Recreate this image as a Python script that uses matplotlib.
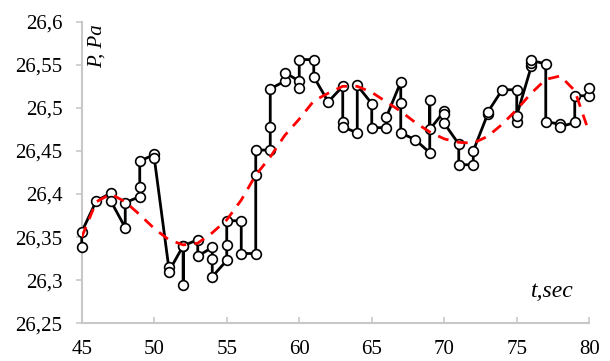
import numpy as np
import matplotlib.pyplot as plt

plt.rcParams['font.family'] = 'Liberation Serif'

# measured samples: time (s) and pressure readings at that time, in drawing order
t = [45, 45, 46, 47, 47, 48, 48, 49, 49, 49, 50, 50, 51, 51, 52, 52, 52,
     53, 53, 54, 54, 54, 55, 55, 55, 56, 56, 57, 57, 57, 58, 58, 58,
     59, 59, 60, 60, 60, 61, 61, 62, 63, 63, 63, 64, 64, 65, 65, 66, 66,
     67, 67, 67, 68, 69, 69, 69, 70, 70, 70, 71, 71, 72, 72, 73, 73, 74,
     75, 75, 75, 76, 76, 76, 77, 77, 78, 78, 79, 79, 80, 80]
p = [26.338, 26.356, 26.392, 26.401, 26.392, 26.361, 26.390, 26.397, 26.408, 26.438,
     26.446, 26.442, 26.315, 26.310, 26.340, 26.295, 26.340,
     26.347, 26.328, 26.338, 26.325, 26.304, 26.323, 26.341, 26.369, 26.369, 26.331,
     26.331, 26.422, 26.451, 26.451, 26.478, 26.522,
     26.531, 26.541, 26.531, 26.523, 26.556, 26.556, 26.536, 26.507,
     26.525, 26.483, 26.478, 26.471, 26.526, 26.505, 26.477, 26.477, 26.489,
     26.530, 26.506, 26.471, 26.463, 26.448, 26.509, 26.475, 26.496, 26.493, 26.482,
     26.458, 26.434, 26.434, 26.450, 26.493, 26.495, 26.521,
     26.521, 26.483, 26.491, 26.548, 26.552, 26.555, 26.551, 26.484,
     26.481, 26.478, 26.483, 26.514, 26.514, 26.523]

# trend curve
t_fit = np.arange(45, 81)
p_fit = [26.350, 26.391, 26.400, 26.391, 26.376, 26.360, 26.347, 26.341, 26.343, 26.355,
         26.370, 26.393, 26.422, 26.443, 26.468, 26.487, 26.508, 26.517, 26.525, 26.525,
         26.518, 26.507, 26.496, 26.483, 26.472, 26.464, 26.460, 26.459, 26.467, 26.481,
         26.498, 26.517, 26.533, 26.537, 26.520, 26.471]

fig = plt.figure(figsize=(6.1, 3.61), dpi=100)
ax = fig.add_axes([0.134, 0.1044, 0.832, 0.8356])

ax.plot(t, p, color='black', lw=2, marker='o', ms=7, mfc='white', mec='black', mew=1.2,
        zorder=3, clip_on=False)
ax.plot(t_fit, p_fit, color='#ff0000', lw=2, ls=(0, (4, 3)), zorder=4)

ax.set_xlim(45, 80)
ax.set_ylim(26.25, 26.6)
ax.set_xticks(np.arange(45, 81, 5))
ax.set_yticks(np.arange(26.25, 26.61, 0.05))
ax.set_yticklabels(['26,25', '26,3', '26,35', '26,4', '26,45', '26,5', '26,55', '26,6'])

for s in ['top', 'right']:
    ax.spines[s].set_visible(False)
for s in ['left', 'bottom']:
    ax.spines[s].set_color('#c8c8c8')
    ax.spines[s].set_linewidth(1.5)
ax.tick_params(axis='y', colors='#c8c8c8', labelcolor='black', labelsize=15,
               length=4, width=1.2, pad=10)
ax.tick_params(axis='x', direction='in', colors='#c8c8c8', labelcolor='black', labelsize=15,
               length=4, width=1.2, pad=12)

ax.text(0.03, 0.99, 'P, Pa', transform=ax.transAxes, rotation=90, style='italic',
        fontsize=15, ha='center', va='top')
ax.text(0.97, 0.07, 't,sec', transform=ax.transAxes, style='italic',
        fontsize=17, ha='right', va='bottom')

plt.savefig('out.png')
